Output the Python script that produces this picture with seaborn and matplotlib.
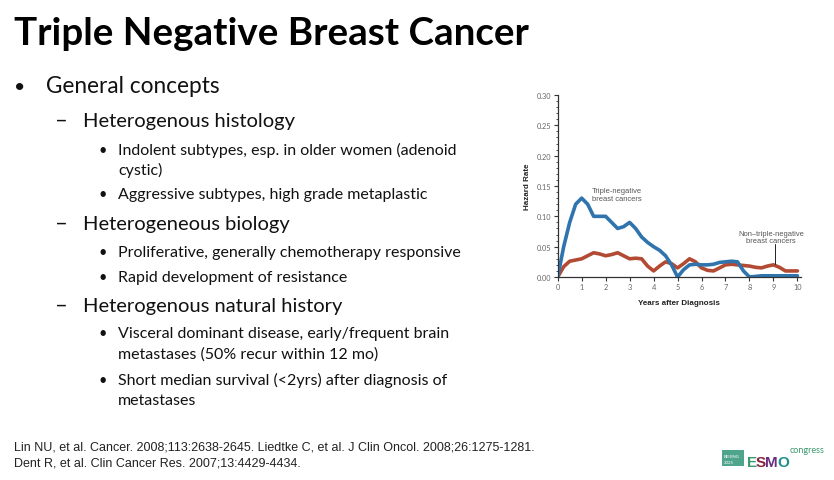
import numpy as np
import pandas as pd
import matplotlib
matplotlib.use('Agg')
import matplotlib.pyplot as plt
from matplotlib.ticker import MultipleLocator
import seaborn as sns

# hazard curves (years, hazard rate)
years = [0, 0.25, 0.5, 0.75, 1, 1.25, 1.5, 1.75, 2, 2.25, 2.5, 2.75, 3, 3.25, 3.5,
         3.75, 4, 4.25, 4.5, 4.75, 5, 5.25, 5.5, 5.75, 6, 6.25, 6.5, 6.75, 7, 7.25,
         7.5, 7.75, 8, 8.25, 8.5, 8.75, 9, 9.25, 9.5, 9.75, 10]
tnbc = [0.0, 0.05, 0.09, 0.12, 0.13, 0.12, 0.10, 0.10, 0.10, 0.09, 0.08, 0.083, 0.09,
        0.08, 0.066, 0.057, 0.05, 0.044, 0.035, 0.02, 0.0, 0.012, 0.02, 0.021, 0.02,
        0.02, 0.021, 0.024, 0.025, 0.026, 0.025, 0.01, 0.0, 0.001, 0.002, 0.002, 0.002,
        0.002, 0.002, 0.002, 0.002]
non_tnbc = [0.0, 0.017, 0.026, 0.028, 0.03, 0.035, 0.04, 0.038, 0.035, 0.037, 0.04,
            0.035, 0.03, 0.031, 0.03, 0.018, 0.01, 0.018, 0.025, 0.022, 0.015, 0.022,
            0.03, 0.025, 0.015, 0.011, 0.01, 0.015, 0.02, 0.021, 0.02, 0.019, 0.018,
            0.016, 0.015, 0.018, 0.02, 0.016, 0.01, 0.01, 0.01]

df = pd.DataFrame({'years': years * 2,
                   'hazard': tnbc + non_tnbc,
                   'group': ['tnbc'] * len(years) + ['non'] * len(years)})

sns.set_style('white')
plt.rcParams['font.family'] = ['Lato', 'DejaVu Sans']

W, H = 834, 481
fig = plt.figure(figsize=(W / 100, H / 100), dpi=100)
fig.patch.set_facecolor('white')


def px(x, y):
    return x / W, 1 - y / H


# slide text
txt = '#111111'
fig.text(*px(14, 45), 'Triple Negative Breast Cancer', fontsize=27.7,
         fontweight='bold', color='black', va='baseline')
fig.text(*px(14, 93), '\u2022', fontsize=14, color=txt, va='baseline')
fig.text(*px(46, 93), 'General concepts', fontsize=16.3, color=txt, va='baseline')

lines2 = [(127, 'Heterogenous histology'),
          (230, 'Heterogeneous biology'),
          (312, 'Heterogenous natural history')]
for yb, s in lines2:
    fig.text(*px(55, yb), '\u2013', fontsize=16, color=txt, va='baseline')
    fig.text(*px(83, yb), s, fontsize=14.5, color=txt, va='baseline')

lines3 = [(155, 'Indolent subtypes, esp. in older women (adenoid', True),
          (175, 'cystic)', False),
          (199, 'Aggressive subtypes, high grade metaplastic', True),
          (257, 'Proliferative, generally chemotherapy responsive', True),
          (282, 'Rapid development of resistance', True),
          (338, 'Visceral dominant disease, early/frequent brain', True),
          (359, 'metastases (50% recur within 12 mo)', False),
          (385, 'Short median survival (<2yrs) after diagnosis of', True),
          (405, 'metastases', False)]
for yb, s, bullet in lines3:
    if bullet:
        fig.text(*px(98, yb), '\u2022', fontsize=10.5, color=txt, va='baseline')
    fig.text(*px(118, yb), s, fontsize=11.5, color=txt, va='baseline')

fig.text(*px(14, 451), 'Lin NU, et al. Cancer. 2008;113:2638-2645. Liedtke C, et al. '
         'J Clin Oncol. 2008;26:1275-1281.', fontsize=9, color='#222222',
         va='baseline', family='Liberation Sans')
fig.text(*px(14, 466), 'Dent R, et al. Clin Cancer Res. 2007;13:4429-4434.',
         fontsize=9, color='#222222', va='baseline', family='Liberation Sans')

# logo
fig.patches.append(plt.Rectangle(px(722, 467), 22 / W, 16 / H, transform=fig.transFigure,
                                 facecolor='#4fa58c', edgecolor='none'))
fig.text(*px(724, 458), 'BEIJING', fontsize=3.2, color='white', va='baseline')
fig.text(*px(724, 464), '2025', fontsize=3.2, color='white', va='baseline')
letters = [('E', 747, '#3a9a6e'), ('S', 756, '#8a2340'),
           ('M', 765.5, '#6a2e7e'), ('O', 777.5, '#1a8f8a')]
for ch, xl, c in letters:
    fig.text(*px(xl, 467), ch, fontsize=11, fontweight='bold', color=c,
             va='baseline', family='Liberation Sans')
fig.text(*px(790, 453), 'congress', fontsize=6.5, color='#3a9a6e', va='baseline')

# chart
x0, y0 = px(557.7, 278)
x1, y1 = px(801, 96)
ax = fig.add_axes([x0, y0, x1 - x0, y1 - y0])
sns.lineplot(data=df, x='years', y='hazard', hue='group',
             palette={'tnbc': '#2f74ad', 'non': '#b34a33'},
             hue_order=['non', 'tnbc'], linewidth=2.6, legend=False, ax=ax)
ax.set_xlim(0, 10.15)
ax.set_ylim(0, 0.30)
ax.set_xticks(range(11))
ax.set_yticks(np.arange(0, 0.31, 0.05))
ax.set_yticklabels(['%.2f' % v for v in np.arange(0, 0.31, 0.05)])
ax.yaxis.set_minor_locator(MultipleLocator(0.01))
ax.tick_params(axis='both', which='major', direction='out', length=3, width=0.8,
               labelsize=5.3, labelcolor='#666666', color='#333333', pad=1.5,
               bottom=True, left=True)
ax.tick_params(axis='y', which='minor', direction='out', length=1.8, width=0.6,
               color='#333333', left=True)
sns.despine(ax=ax)
for s in ['left', 'bottom']:
    ax.spines[s].set_linewidth(0.9)
    ax.spines[s].set_color('#333333')
ax.set_xlabel('Years after Diagnosis', fontsize=5.8, fontweight='bold',
              color='#222222', labelpad=6, family='Liberation Sans')
ax.set_ylabel('Hazard Rate', fontsize=5.8, fontweight='bold', color='#222222',
              labelpad=4, family='Liberation Sans')
ax.set_facecolor('white')

ax.text(2.48, 0.136, 'Triple-negative\nbreast cancers', fontsize=5.4, color='#555555',
        ha='center', va='center', linespacing=1.1, family='Liberation Sans')
ax.text(8.9, 0.066, 'Non\u2013triple-negative\nbreast cancers', fontsize=5.4,
        color='#555555', ha='center', va='center', linespacing=1.1,
        family='Liberation Sans')
ax.plot([9.05, 9.05], [0.054, 0.021], color='#222222', linewidth=0.7)

fig.savefig('out.png', dpi=100, facecolor='white')
